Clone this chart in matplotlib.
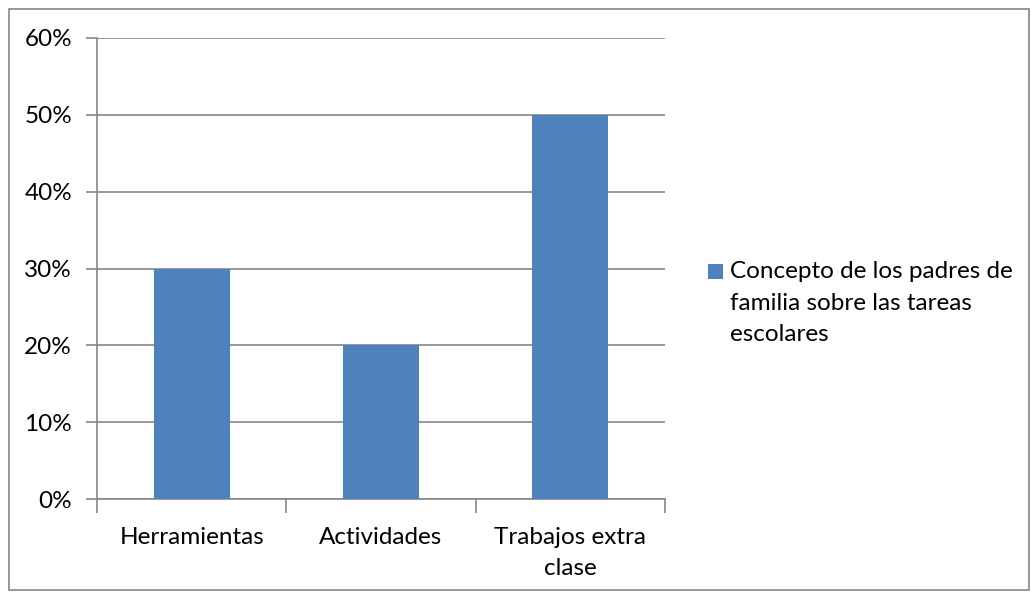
import matplotlib.pyplot as plt
from matplotlib.patches import Rectangle
import numpy as np

plt.rcParams['font.family'] = ['Lato', 'DejaVu Sans']

# Datos
categorias = ['Herramientas', 'Actividades', 'Trabajos extra\nclase']
valores = [0.30, 0.20, 0.50]
serie = 'Concepto de los padres de\nfamilia sobre las tareas\nescolares'
yticks = [0, 0.1, 0.2, 0.3, 0.4, 0.5, 0.6]

gris = '#868686'
azul = '#4F81BD'
fs = 17.5

fig = plt.figure(figsize=(10.31, 5.92), dpi=100)

# Marco exterior
fig.patches.append(Rectangle((9 / 1031, 2 / 592), 1020 / 1031, 581 / 592,
                             transform=fig.transFigure, fill=False,
                             edgecolor=gris, linewidth=1.2))

ax = fig.add_axes([97 / 1031, 1 - 499 / 592, 568 / 1031, 461 / 592])
x = np.arange(len(categorias))
barras = ax.bar(x, valores, width=0.4, color=azul, zorder=3, label=serie)

ax.set_xlim(-0.5, len(categorias) - 0.5)
ax.set_ylim(0, 0.6)
ax.set_yticks(yticks)
ax.set_yticklabels([f'{int(round(v * 100))}%' for v in yticks], fontsize=fs)
ax.yaxis.grid(True, color=gris, linewidth=1.2, zorder=0)

# Marcas del eje x entre categorias
ax.set_xticks(np.arange(-0.5, len(categorias), 1.0))
ax.set_xticklabels([])
ax.set_xticks(x, minor=True)
ax.set_xticklabels(categorias, minor=True, fontsize=fs, linespacing=1.63)
ax.tick_params(axis='x', which='major', length=10, width=1.2, color=gris, direction='out')
ax.tick_params(axis='x', which='minor', length=0, pad=20)
ax.tick_params(axis='y', length=8, width=1.2, color=gris, pad=10)

for s in ['top', 'right']:
    ax.spines[s].set_visible(False)
for s in ['left', 'bottom']:
    ax.spines[s].set_color(gris)
    ax.spines[s].set_linewidth(1.2)

# Leyenda (cuadro alineado con la primera linea)
fig.patches.append(Rectangle((708 / 1031, 1 - 279 / 592), 15 / 1031, 15 / 592,
                             transform=fig.transFigure, facecolor=azul,
                             edgecolor='none'))
fig.text(730 / 1031, 1 - 261 / 592, serie, fontsize=fs, va='top', ha='left',
         linespacing=1.63)

fig.savefig('out.png', dpi=100)
